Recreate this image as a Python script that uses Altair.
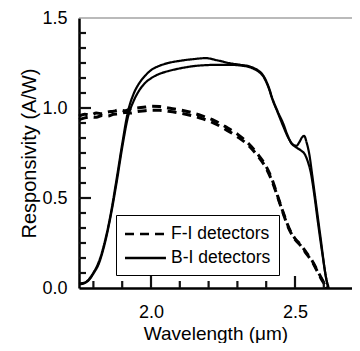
import altair as alt
import pandas as pd

# ---------------- data ----------------
types = ["F-I detectors", "B-I detectors"]

# B-I detector #1 (upper plateau, with bump near 2.53 um)
lam_bi1 = [1.75, 1.77, 1.785, 1.80, 1.82, 1.84, 1.86, 1.88, 1.90, 1.92, 1.94, 1.96, 1.98,
           2.00, 2.03, 2.06, 2.10, 2.15, 2.19, 2.23, 2.27, 2.31, 2.34, 2.36, 2.375, 2.39,
           2.40, 2.41, 2.42, 2.44, 2.46, 2.475, 2.49, 2.505, 2.515, 2.525, 2.532, 2.54,
           2.55, 2.56, 2.575, 2.59, 2.605, 2.615]
r_bi1 = [0.025, 0.03, 0.05, 0.085, 0.15, 0.26, 0.41, 0.60, 0.80, 0.98, 1.08, 1.14, 1.18,
         1.21, 1.235, 1.25, 1.262, 1.272, 1.277, 1.265, 1.25, 1.24, 1.232, 1.22, 1.205, 1.18,
         1.15, 1.11, 1.06, 0.98, 0.91, 0.845, 0.80, 0.79, 0.81, 0.838, 0.845, 0.81,
         0.74, 0.625, 0.445, 0.265, 0.085, 0.0]

# B-I detector #2 (lower plateau, no bump)
lam_bi2 = [1.75, 1.77, 1.785, 1.80, 1.82, 1.84, 1.86, 1.88, 1.90, 1.92, 1.94, 1.96, 1.98,
           2.00, 2.03, 2.06, 2.10, 2.15, 2.19, 2.23, 2.27, 2.31, 2.34, 2.36, 2.375, 2.39,
           2.40, 2.41, 2.42, 2.44, 2.46, 2.475, 2.49, 2.505, 2.52, 2.535, 2.545, 2.555,
           2.565, 2.58, 2.595, 2.61, 2.618]
r_bi2 = [0.02, 0.028, 0.045, 0.08, 0.14, 0.25, 0.40, 0.58, 0.78, 0.95, 1.04, 1.10, 1.14,
         1.165, 1.19, 1.205, 1.22, 1.233, 1.238, 1.24, 1.24, 1.236, 1.228, 1.215, 1.20, 1.175,
         1.145, 1.105, 1.055, 0.975, 0.895, 0.84, 0.80, 0.78, 0.765, 0.74, 0.70, 0.64,
         0.54, 0.36, 0.19, 0.04, 0.0]

# F-I detector #1 (upper dashed)
lam_fi1 = [1.75, 1.77, 1.79, 1.81, 1.83, 1.85, 1.87, 1.89, 1.91, 1.93, 1.95, 1.98, 2.00,
           2.03, 2.06, 2.10, 2.14, 2.18, 2.22, 2.26, 2.30, 2.34, 2.37, 2.40, 2.42, 2.44,
           2.46, 2.48, 2.50, 2.52, 2.54, 2.56, 2.58, 2.595, 2.61]
r_fi1 = [0.955, 0.965, 0.96, 0.972, 0.968, 0.978, 0.982, 0.99, 0.985, 0.995, 1.0, 1.005, 1.01,
         1.008, 1.0, 0.99, 0.975, 0.955, 0.93, 0.895, 0.855, 0.80, 0.745, 0.675, 0.605, 0.51,
         0.415, 0.33, 0.275, 0.24, 0.195, 0.15, 0.09, 0.045, 0.0]

# F-I detector #2 (lower dashed)
lam_fi2 = [1.75, 1.77, 1.79, 1.81, 1.83, 1.85, 1.87, 1.89, 1.91, 1.93, 1.95, 1.98, 2.00,
           2.03, 2.06, 2.10, 2.14, 2.18, 2.22, 2.26, 2.30, 2.34, 2.37, 2.40, 2.42, 2.44,
           2.46, 2.48, 2.50, 2.52, 2.54, 2.56, 2.58, 2.595, 2.612]
r_fi2 = [0.935, 0.945, 0.95, 0.948, 0.958, 0.955, 0.965, 0.968, 0.975, 0.972, 0.98, 0.985, 0.988,
         0.987, 0.982, 0.972, 0.958, 0.94, 0.915, 0.88, 0.84, 0.79, 0.735, 0.665, 0.595, 0.505,
         0.41, 0.325, 0.27, 0.235, 0.19, 0.145, 0.085, 0.04, 0.0]

# axis ticks
x_labels = [2.0, 2.5]
x_minor = [1.8, 1.9, 2.1, 2.2, 2.3, 2.4, 2.6]
y_labels = [0.0, 0.5, 1.0, 1.5]
y_major_inner = [0.5, 1.0]
y_minor = [k / 12 for k in range(1, 18) if k % 6 != 0]

# ---------------- build table ----------------
rows = []
for name, typ, lams, rs in [
    ("fi1", types[0], lam_fi1, r_fi1),
    ("fi2", types[0], lam_fi2, r_fi2),
    ("bi1", types[1], lam_bi1, r_bi1),
    ("bi2", types[1], lam_bi2, r_bi2),
]:
    for l, r in zip(lams, rs):
        rows.append({"curve": name, "type": typ, "wl": l, "resp": r})
df = pd.DataFrame(rows)

FONT = "Liberation Sans"
W, H = 273, 270
TOP = 10
X0, X1 = 1.75, 1.75 + W / 288
Y0, Y1 = 0.0, 1.5
xsc = alt.Scale(domain=[X0, X1], nice=False, zero=False)
ysc = alt.Scale(domain=[Y0, Y1], nice=False)

common_axis = dict(domainColor="black", domainWidth=2.5, ticks=False, grid=False,
                   labelFont=FONT, titleFont=FONT, labelColor="black", titleColor="black",
                   titleFontWeight="normal", format=".1f", labelFontSize=18)
x_axis = alt.Axis(values=x_labels, title="Wavelength (μm)", titleFontSize=19,
                  labelPadding=15, titlePadding=3, **common_axis)
y_axis = alt.Axis(values=y_labels, title="Responsivity (A/W)", titleFontSize=20,
                  labelPadding=12, titlePadding=2, **common_axis)

dash_scale = alt.Scale(domain=types, range=[[9, 6], [1, 0]])
legend = alt.Legend(title=None, orient="none", legendX=37, legendY=197,
                    symbolType="M-1.11,0L3.44,0", symbolSize=324,
                    symbolStrokeWidth=2.5, symbolStrokeColor="black",
                    symbolFillColor="transparent",
                    labelFontSize=17.5, labelOffset=25.5, labelFont=FONT,
                    labelColor="black", padding=8.5, rowPadding=5,
                    strokeColor="black", fillColor="white")


def curve_layer(kind, width):
    return alt.Chart(df).transform_filter(alt.datum.type == kind).mark_line(
        interpolate="monotone", color="black", strokeWidth=width).encode(
        x=alt.X("wl:Q", scale=xsc, axis=x_axis),
        y=alt.Y("resp:Q", scale=ysc, axis=y_axis),
        detail="curve:N",
        strokeDash=alt.StrokeDash("type:N", scale=dash_scale, legend=legend),
    )


fi_lines = curve_layer(types[0], 3)
bi_lines = curve_layer(types[1], 2.2)

# inward tick marks, drawn with datum ends on the shared scales
px_x = (X1 - X0) / W   # data units per pixel along x
px_y = (Y1 - Y0) / H   # data units per pixel along y
TICK = "#111111"


def ytick_layer(vals, length):
    return alt.Chart(pd.DataFrame({"resp": vals})).mark_rule(
        color=TICK, strokeWidth=2.2).encode(
        y=alt.Y("resp:Q", scale=ysc, axis=y_axis),
        x=alt.datum(X0, scale=xsc),
        x2=alt.datum(X0 + length * px_x))


def xtick_layer(vals, length):
    return alt.Chart(pd.DataFrame({"wl": vals})).mark_rule(
        color=TICK, strokeWidth=2.2).encode(
        x=alt.X("wl:Q", scale=xsc, axis=x_axis),
        y=alt.datum(Y0, scale=ysc),
        y2=alt.datum(Y0 + length * px_y))


top_line = alt.Chart(pd.DataFrame({"resp": [1.5]})).mark_rule(
    color="#777", strokeWidth=1.2).encode(
    y=alt.Y("resp:Q", scale=ysc, axis=y_axis), x=alt.value(0), x2=alt.value(W))

chart = alt.layer(top_line, fi_lines, bi_lines,
                  ytick_layer(y_major_inner, 12), ytick_layer(y_minor, 7),
                  xtick_layer(x_labels, 12), xtick_layer(x_minor, 7)).properties(
    width=W, height=H,
    view=alt.ViewBackground(strokeWidth=0),
    autosize=alt.AutoSizeParams(type="none"),
    padding={"left": 71, "top": TOP, "right": 0, "bottom": 335 - TOP - H},
)

chart.save("out.html", embed_options={"renderer": "svg", "actions": False})
